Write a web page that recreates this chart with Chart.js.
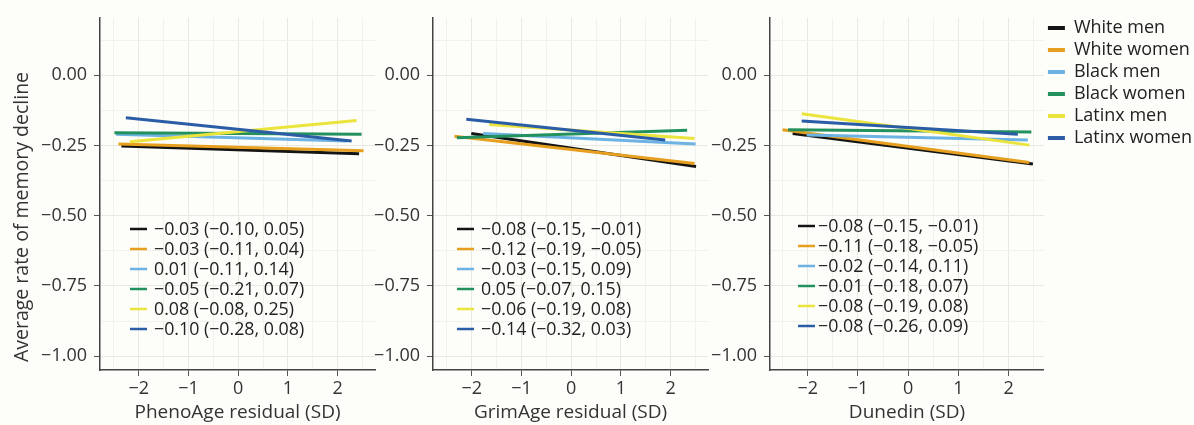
<!DOCTYPE html>
<html lang="en">
<head>
  <meta charset="UTF-8">
  <title>Epigenetic clocks and memory decline</title>
  <script src="https://cdn.jsdelivr.net/npm/chart.js"></script>
  <style>
    body { margin: 0; background: #fdfdfa; font-family: "Open Sans", sans-serif; overflow: hidden; }
    canvas { position: absolute; top: 0; }
  </style>
</head>
<body>
  <canvas id="pheno" width="380" height="425" style="left:0"></canvas>
  <canvas id="grim" width="352" height="425" style="left:360px"></canvas>
  <canvas id="dunedin" width="494" height="425" style="left:700px"></canvas>

  <script>
    // groups and their colours
    const groups = ['White men', 'White women', 'Black men', 'Black women', 'Latinx men', 'Latinx women'];
    const colors = ['#141414', '#e69f1e', '#6cb2e2', '#23915d', '#ebe43c', '#2b5da6'];

    // fitted lines per group: [x start, y start, x end, y end]
    const phenoLines = [
      [-2.35, -0.252, 2.43, -0.280],
      [-2.41, -0.245, 2.52, -0.269],
      [-2.46, -0.210, 2.18, -0.234],
      [-2.49, -0.205, 2.48, -0.210],
      [-2.18, -0.237, 2.38, -0.161],
      [-2.26, -0.152, 2.28, -0.234]
    ];
    const grimLines = [
      [-2.01, -0.208, 2.51, -0.325],
      [-2.35, -0.217, 2.48, -0.314],
      [-1.77, -0.208, 2.50, -0.245],
      [-2.30, -0.223, 2.33, -0.196],
      [-1.65, -0.176, 2.48, -0.225],
      [-2.11, -0.157, 1.89, -0.231]
    ];
    const dunedinLines = [
      [-2.30, -0.208, 2.48, -0.316],
      [-2.50, -0.194, 2.41, -0.311],
      [-2.02, -0.213, 2.38, -0.231],
      [-2.39, -0.194, 2.45, -0.202],
      [-2.12, -0.137, 2.41, -0.249],
      [-2.12, -0.163, 2.18, -0.210]
    ];

    // estimates (95% CI) printed in each panel
    const phenoCoefs = ['−0.03 (−0.10, 0.05)', '−0.03 (−0.11, 0.04)', '0.01 (−0.11, 0.14)',
                        '−0.05 (−0.21, 0.07)', '0.08 (−0.08, 0.25)', '−0.10 (−0.28, 0.08)'];
    const grimCoefs = ['−0.08 (−0.15, −0.01)', '−0.12 (−0.19, −0.05)', '−0.03 (−0.15, 0.09)',
                       '0.05 (−0.07, 0.15)', '−0.06 (−0.19, 0.08)', '−0.14 (−0.32, 0.03)'];
    const dunedinCoefs = ['−0.08 (−0.15, −0.01)', '−0.11 (−0.18, −0.05)', '−0.02 (−0.14, 0.11)',
                          '−0.01 (−0.18, 0.07)', '−0.08 (−0.19, 0.08)', '−0.08 (−0.26, 0.09)'];

    // axis ticks (labels on majors, faint grid on all)
    const xTicks = [-2.5, -2, -1.5, -1, -0.5, 0, 0.5, 1, 1.5, 2, 2.5];
    const yTicks = [-1, -0.875, -0.75, -0.625, -0.5, -0.375, -0.25, -0.125, 0, 0.125];
    const yTitle = 'Average rate of memory decline';

    const fontFamily = '"Open Sans", sans-serif';
    const isMajorX = v => Number.isInteger(v);
    const isMajorY = v => Math.abs(v * 4 - Math.round(v * 4)) < 1e-9;
    const fmt = (v, d) => (v < 0 ? '−' : '') + Math.abs(v).toFixed(d);

    // draws the coefficient list inside the plot area
    const coefPlugin = {
      id: 'coefs',
      afterDatasetsDraw(chart, args, o) {
        const ctx = chart.ctx, a = chart.chartArea;
        ctx.save();
        ctx.font = '17.8px ' + fontFamily;
        ctx.textBaseline = 'middle';
        o.labels.forEach((t, i) => {
          const y = o.top + i * 20;
          ctx.strokeStyle = colors[i];
          ctx.lineWidth = 2.5;
          ctx.beginPath();
          ctx.moveTo(a.left + o.seg, y);
          ctx.lineTo(a.left + o.seg + 17, y);
          ctx.stroke();
          ctx.fillStyle = '#222';
          ctx.fillText(t, a.left + o.text, y + 1);
        });
        ctx.restore();
      }
    };

    // rotated y title on the first panel
    const yTitlePlugin = {
      id: 'ytitle',
      afterDraw(chart, args, o) {
        if (!o.text) return;
        const ctx = chart.ctx;
        ctx.save();
        ctx.translate(22, 217);
        ctx.rotate(-Math.PI / 2);
        ctx.font = '19.5px ' + fontFamily;
        ctx.fillStyle = '#333';
        ctx.textAlign = 'center';
        ctx.textBaseline = 'middle';
        ctx.fillText(o.text, 0, 0);
        ctx.restore();
      }
    };

    function makePanel(id, lines, coefs, p) {
      const datasets = lines.map((l, i) => ({
        label: groups[i],
        data: [{ x: l[0], y: l[1] }, { x: l[2], y: l[3] }],
        showLine: true,
        borderColor: colors[i],
        backgroundColor: colors[i],
        borderWidth: 3,
        pointRadius: 0,
        order: lines.length - i
      }));

      return new Chart(document.getElementById(id), {
        type: 'scatter',
        data: { datasets },
        plugins: [coefPlugin, yTitlePlugin],
        options: {
          responsive: false,
          animation: false,
          layout: { padding: { top: 15, right: p.right, left: 0, bottom: 0 } },
          plugins: {
            tooltip: { enabled: false },
            legend: {
              display: !!p.legend,
              position: 'right',
              align: 'start',
              maxWidth: 200,
              labels: {
                boxWidth: 17,
                boxHeight: 4,
                padding: 4,
                color: '#222',
                font: { family: fontFamily, size: 18 },
                generateLabels: chart => chart.data.datasets.map((d, i) => ({
                  text: d.label,
                  fillStyle: d.borderColor,
                  strokeStyle: d.borderColor,
                  lineWidth: 0,
                  hidden: false,
                  datasetIndex: i,
                  fontColor: '#222'
                }))
              }
            },
            coefs: { labels: coefs, top: p.coefTop, seg: p.seg, text: p.text },
            ytitle: { text: p.yTitle }
          },
          scales: {
            x: {
              min: p.xMin, max: p.xMax,
              afterBuildTicks: s => { s.ticks = xTicks.map(v => ({ value: v })); },
              afterFit: s => { s.height = 55; },
              ticks: {
                autoSkip: false, maxRotation: 0, padding: 2, color: '#333',
                font: { family: fontFamily, size: 18 },
                callback: v => isMajorX(v) ? fmt(v, 0) : ''
              },
              grid: {
                tickLength: 6,
                color: c => isMajorX(c.tick.value) ? '#e9e9e3' : '#f2f2ed',
                tickColor: c => isMajorX(c.tick.value) ? '#555' : 'rgba(0,0,0,0)'
              },
              border: { color: '#444', width: 1.5 },
              title: {
                display: true, text: p.xTitle, color: '#333',
                font: { family: fontFamily, size: 19 },
                padding: { top: 0, bottom: 1 }
              }
            },
            y: {
              min: -1.049, max: 0.204,
              afterBuildTicks: s => { s.ticks = yTicks.map(v => ({ value: v })); },
              afterFit: s => { s.width = p.yWidth; },
              ticks: {
                autoSkip: false, padding: 7, color: '#333',
                font: { family: fontFamily, size: 18 },
                callback: v => isMajorY(v) ? fmt(v, 2) : ''
              },
              grid: {
                tickLength: 6,
                color: c => isMajorY(c.tick.value) ? '#e9e9e3' : '#f2f2ed',
                tickColor: c => isMajorY(c.tick.value) ? '#555' : 'rgba(0,0,0,0)'
              },
              border: { color: '#444', width: 1.5 }
            }
          }
        }
      });
    }

    makePanel('pheno', phenoLines, phenoCoefs, {
      xTitle: 'PhenoAge residual (SD)', yTitle: yTitle, yWidth: 100, right: 5,
      xMin: -2.78, xMax: 2.75, coefTop: 229, seg: 30, text: 54
    });
    makePanel('grim', grimLines, grimCoefs, {
      xTitle: 'GrimAge residual (SD)', yWidth: 73, right: 4,
      xMin: -2.78, xMax: 2.75, coefTop: 229, seg: 24, text: 48
    });
    makePanel('dunedin', dunedinLines, dunedinCoefs, {
      xTitle: 'Dunedin (SD)', yWidth: 70, right: -8, legend: true,
      xMin: -2.75, xMax: 2.7, coefTop: 226, seg: 28, text: 48
    });
  </script>
</body>
</html>
